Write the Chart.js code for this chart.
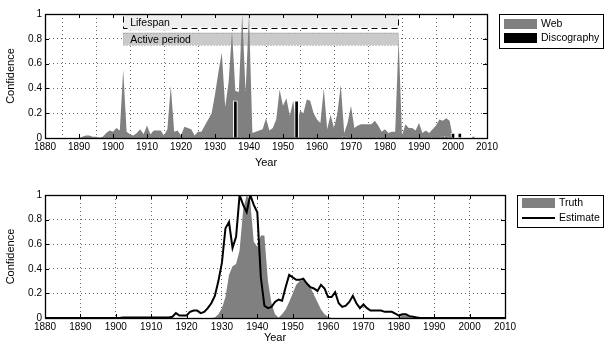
<!DOCTYPE html>
<html>
<head>
<meta charset="utf-8">
<script src="https://cdn.jsdelivr.net/npm/chart.js@4.4.0/dist/chart.umd.min.js"></script>
<style>
  body { margin: 0; background: #fff; }
  canvas { position: absolute; left: 0; }
  #WebChart { top: 0; }
  #TruthChart { top: 170px; }
</style>
</head>
<body>
<canvas id="WebChart" width="604" height="170"></canvas>
<canvas id="TruthChart" width="604" height="175"></canvas>
<script>
// one value per year, 1880 .. 2010
const years = Array.from({length: 131}, (_, i) => 1880 + i);

const webValues = [
  0, 0, 0, 0, 0, 0, 0, 0, 0, 0,                              // 1880
  0, 0.01, 0.02, 0.02, 0.01, 0.01, 0.005, 0.01, 0.04, 0.06,  // 1890
  0.05, 0.08, 0.06, 0.55, 0.05, 0.03, 0.02, 0.04, 0.07, 0.03, // 1900
  0.10, 0.03, 0.06, 0.06, 0.06, 0.02, 0.07, 0.42, 0.05, 0.06, // 1910
  0.02, 0.09, 0.08, 0.07, 0.02, 0.05, 0.05, 0.10, 0.15, 0.20, // 1920
  0.35, 0.53, 0.69, 0.25, 0.45, 0.86, 0.38, 0.37, 1.00, 0.37, // 1930
  1.00, 0.04, 0.05, 0.06, 0.07, 0.16, 0.06, 0.08, 0.15, 0.39, // 1940
  0.26, 0.32, 0.18, 0.30, 0.10, 0.22, 0.20, 0.31, 0.30, 0.20, // 1950
  0.15, 0.12, 0.40, 0.07, 0.19, 0.08, 0.20, 0.43, 0.04, 0.12, // 1960
  0.26, 0.08, 0.10, 0.11, 0.11, 0.11, 0.11, 0.14, 0.10, 0.05, // 1970
  0.07, 0.04, 0.05, 0.05, 0.80, 0.02, 0.11, 0.08, 0.08, 0.06, // 1980
  0.12, 0.04, 0.06, 0.04, 0.07, 0.10, 0.15, 0.14, 0.16, 0.14, // 1990
  0, 0, 0, 0, 0, 0, 0, 0, 0, 0,                              // 2000
  0
];

const discYears = [1936, 1954, 1968, 1997, 1998, 2000, 2002, 2006];
const discValues = [0.30, 0.30, 0.01, 0.01, 0.01, 0.04, 0.04, 0.01];

const lifespan = [1903, 1984];
const activePeriod = [1903, 1984];

const truthValues = [
  0, 0, 0, 0, 0, 0, 0, 0, 0, 0,                              // 1880
  0, 0, 0, 0, 0, 0, 0, 0, 0, 0,                              // 1890
  0, 0, 0, 0, 0, 0, 0, 0, 0, 0,                              // 1900
  0, 0, 0, 0, 0, 0, 0, 0, 0, 0,                              // 1910
  0, 0, 0, 0, 0, 0, 0, 0, 0.005, 0.03,                       // 1920
  0.08, 0.17, 0.35, 0.42, 0.44, 0.55, 0.88, 1.00, 0.95, 0.62, // 1930
  0.58, 0.67, 0.67, 0.30, 0.12, 0.03, 0.005, 0.03, 0.07, 0.13, // 1940
  0.20, 0.27, 0.30, 0.31, 0.29, 0.25, 0.19, 0.13, 0.07, 0.03, // 1950
  0.01, 0, 0, 0, 0, 0, 0, 0, 0, 0,                           // 1960
  0, 0, 0, 0, 0, 0, 0, 0, 0, 0,                              // 1970
  0.005, 0.02, 0.02, 0.01, 0, 0, 0, 0, 0, 0,                 // 1980
  0, 0, 0, 0, 0, 0, 0, 0, 0, 0,                              // 1990
  0, 0, 0, 0, 0, 0, 0, 0, 0, 0,                              // 2000
  0
];

const estimateValues = [
  0, 0, 0, 0, 0, 0, 0, 0, 0, 0,                              // 1880
  0, 0, 0, 0, 0, 0, 0, 0, 0, 0,                              // 1890
  0, 0, 0.005, 0.005, 0.005, 0.005, 0.005, 0.005, 0.005, 0.005, // 1900
  0.005, 0.005, 0.005, 0.005, 0.005, 0.005, 0.01, 0.04, 0.02, 0.02, // 1910
  0.02, 0.05, 0.06, 0.06, 0.04, 0.05, 0.08, 0.12, 0.18, 0.30, // 1920
  0.45, 0.73, 0.78, 0.57, 0.66, 1.00, 0.92, 0.86, 1.00, 0.92, // 1930
  0.86, 0.33, 0.10, 0.08, 0.09, 0.13, 0.15, 0.14, 0.25, 0.35, // 1940
  0.33, 0.31, 0.31, 0.32, 0.28, 0.25, 0.24, 0.22, 0.27, 0.24, // 1950
  0.17, 0.17, 0.21, 0.12, 0.09, 0.10, 0.13, 0.18, 0.12, 0.08, // 1960
  0.11, 0.08, 0.06, 0.06, 0.06, 0.06, 0.05, 0.05, 0.05, 0.035, // 1970
  0.02, 0.03, 0.03, 0.015, 0.01, 0.005, 0, 0, 0, 0,          // 1980
  0, 0, 0, 0, 0, 0, 0, 0, 0, 0,                              // 1990
  0, 0, 0, 0, 0, 0, 0, 0, 0, 0,                              // 2000
  0
];

Chart.defaults.font.family = "'Liberation Sans', Arial, sans-serif";
Chart.defaults.font.size = 10;
Chart.defaults.color = '#000';

const web_ctx = document.getElementById('WebChart');
const truth_ctx = document.getElementById('TruthChart');

// matlab-like box round the plot with inward ticks on all four sides
const framePlugin = {
  id: 'frame',
  afterDatasetsDraw(chart) {
    const {ctx, chartArea: a, scales: {x, y}} = chart;
    ctx.save();
    ctx.setLineDash([]);
    ctx.strokeStyle = '#000';
    ctx.lineWidth = 1;
    ctx.beginPath();
    x.ticks.forEach(t => {
      const px = Math.round(x.getPixelForValue(t.value)) + 0.5;
      ctx.moveTo(px, a.bottom); ctx.lineTo(px, a.bottom - 4);
      ctx.moveTo(px, a.top); ctx.lineTo(px, a.top + 4);
    });
    y.ticks.forEach(t => {
      const py = Math.round(y.getPixelForValue(t.value)) + 0.5;
      ctx.moveTo(a.left, py); ctx.lineTo(a.left + 4, py);
      ctx.moveTo(a.right, py); ctx.lineTo(a.right - 4, py);
    });
    ctx.stroke();
    ctx.lineWidth = 1.3;
    ctx.strokeRect(Math.round(a.left) + 0.5, Math.round(a.top) + 0.5,
                   Math.round(a.right - a.left), Math.round(a.bottom - a.top));
    ctx.restore();
  }
};

// lifespan / active period bands in the top plot
const bandsPlugin = {
  id: 'bands',
  beforeDatasetsDraw(chart, args, opts) {
    const {ctx, scales: {x, y}} = chart;
    ctx.save();
    // lifespan
    let x0 = x.getPixelForValue(lifespan[0]), x1 = x.getPixelForValue(lifespan[1]);
    let y0 = y.getPixelForValue(1), y1 = y.getPixelForValue(opts.lifeBottom);
    ctx.fillStyle = '#eeeeee';
    ctx.fillRect(x0, y0, x1 - x0, y1 - y0);
    ctx.strokeStyle = '#000';
    ctx.lineWidth = 1;
    ctx.setLineDash([6, 4]);
    ctx.strokeRect(Math.round(x0) + 0.5, Math.round(y0) + 0.5, Math.round(x1 - x0), Math.round(y1 - y0));
    ctx.setLineDash([]);
    ctx.font = "10.5px 'Liberation Sans', Arial, sans-serif";
    ctx.textBaseline = 'middle';
    const w = ctx.measureText('Lifespan').width;
    ctx.fillStyle = '#eeeeee';
    ctx.fillRect(x0 + 5, y0 + 3, w + 4, y1 - y0);
    ctx.fillStyle = '#000';
    ctx.fillText('Lifespan', x0 + 7, (y0 + y1) / 2 + 2);
    // active period
    x0 = x.getPixelForValue(activePeriod[0]); x1 = x.getPixelForValue(activePeriod[1]);
    y0 = y.getPixelForValue(opts.activeTop); y1 = y.getPixelForValue(opts.activeBottom);
    ctx.fillStyle = '#cacaca';
    ctx.fillRect(x0, y0, x1 - x0, y1 - y0);
    ctx.strokeStyle = '#999';
    ctx.setLineDash([1, 2]);
    ctx.strokeRect(Math.round(x0) + 0.5, Math.round(y0) + 0.5, Math.round(x1 - x0), Math.round(y1 - y0));
    ctx.fillStyle = '#000';
    ctx.fillText('Active period', x0 + 7, (y0 + y1) / 2 + 1);
    ctx.restore();
  }
};

// boxed legend right of the plot
const keyPlugin = {
  id: 'keyBox',
  afterDraw(chart, args, opts) {
    const {ctx} = chart;
    ctx.save();
    ctx.fillStyle = '#fff';
    ctx.fillRect(opts.x, opts.y, opts.w, opts.h);
    ctx.strokeStyle = '#000';
    ctx.lineWidth = 1;
    ctx.strokeRect(opts.x + 0.5, opts.y + 0.5, opts.w, opts.h);
    ctx.font = "10.5px 'Liberation Sans', Arial, sans-serif";
    ctx.textBaseline = 'middle';
    opts.items.forEach((it, i) => {
      const cy = opts.y + opts.first + i * opts.gap;
      if (it.kind === 'line') {
        ctx.strokeStyle = it.color;
        ctx.lineWidth = 2;
        ctx.beginPath();
        ctx.moveTo(opts.x + 5, cy); ctx.lineTo(opts.x + 38, cy);
        ctx.stroke();
      } else {
        ctx.fillStyle = it.color;
        ctx.fillRect(opts.x + 5, cy - 5, 33, 10);
      }
      ctx.fillStyle = '#000';
      ctx.fillText(it.label, opts.x + 42, cy);
    });
    ctx.restore();
  }
};

const gridStyle = { color: 'rgba(0,0,0,0.6)', lineWidth: 1, drawTicks: false };
const borderStyle = { display: false, dash: [1, 3] };

function axes(xHeight, titleTop) {
  return {
    x: {
      type: 'linear', min: 1880, max: 2010, offset: false,
      ticks: { stepSize: 10, padding: 3, maxRotation: 0, callback: v => String(v) },
      grid: gridStyle, border: borderStyle,
      title: { display: true, text: 'Year', font: { size: 11 }, padding: { top: titleTop, bottom: 0 } },
      afterFit: s => { s.height = xHeight; }
    },
    y: {
      min: 0, max: 1,
      ticks: { stepSize: 0.2, padding: 3, callback: v => String(+v.toFixed(1)) },
      grid: gridStyle, border: borderStyle,
      title: { display: true, text: 'Confidence', font: { size: 11 }, padding: { top: 4, bottom: 0 } },
      afterFit: s => { s.width = 45; }
    }
  };
}

const web_config = {
  type: 'line',
  data: {
    datasets: [
      {
        type: 'bar',
        label: 'Discography',
        data: discYears.map((x, i) => ({x: x, y: discValues[i]})),
        backgroundColor: '#000',
        borderColor: '#fff',
        borderWidth: 1,
        barThickness: 4,
        order: 0
      },
      {
        label: 'Web',
        data: years.map((x, i) => ({x: x, y: webValues[i]})),
        fill: 'origin',
        backgroundColor: '#808080',
        borderColor: '#808080',
        borderWidth: 0,
        pointRadius: 0,
        order: 1
      }
    ]
  },
  options: {
    responsive: false,
    animation: false,
    layout: { padding: { top: 14, right: 117, left: 0, bottom: 0 } },
    scales: axes(32, 0),
    plugins: {
      legend: { display: false },
      tooltip: { enabled: false },
      bands: { lifeBottom: 0.89, activeTop: 0.85, activeBottom: 0.75 },
      keyBox: {
        x: 499, y: 14, w: 104, h: 34, first: 10, gap: 14,
        items: [
          { label: 'Web', color: '#808080' },
          { label: 'Discography', color: '#000' }
        ]
      }
    }
  },
  plugins: [bandsPlugin, framePlugin, keyPlugin]
};

const truth_config = {
  type: 'line',
  data: {
    datasets: [
      {
        label: 'Estimate',
        data: years.map((x, i) => ({x: x, y: estimateValues[i]})),
        fill: false,
        borderColor: '#000',
        borderWidth: 2,
        pointRadius: 0,
        order: 0
      },
      {
        label: 'Truth',
        data: years.map((x, i) => ({x: x, y: truthValues[i]})),
        fill: 'origin',
        backgroundColor: '#808080',
        borderColor: '#808080',
        borderWidth: 0,
        pointRadius: 0,
        order: 1
      }
    ]
  },
  options: {
    responsive: false,
    animation: false,
    layout: { padding: { top: 25, right: 99, left: 0, bottom: 0 } },
    scales: axes(27, -2),
    plugins: {
      legend: { display: false },
      tooltip: { enabled: false },
      keyBox: {
        x: 517, y: 25, w: 86, h: 32, first: 8, gap: 15,
        items: [
          { label: 'Truth', color: '#808080' },
          { label: 'Estimate', color: '#000', kind: 'line' }
        ]
      }
    }
  },
  plugins: [framePlugin, keyPlugin]
};

new Chart(web_ctx, web_config);
new Chart(truth_ctx, truth_config);
</script>
</body>
</html>
